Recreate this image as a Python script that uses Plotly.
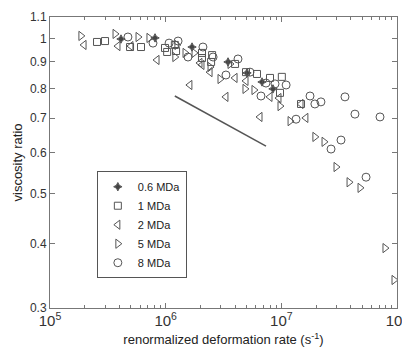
import plotly.graph_objects as go

# 0.6 MDa
x06 = [4.11e5, 8.09e5, 1.69e6, 3.46e6, 5.05e6, 6.81e6, 8.47e6]
y06 = [0.997, 1.002, 0.962, 0.900, 0.857, 0.823, 0.798]
# 1 MDa
x1 = [2.55e5, 2.99e5, 4.92e5, 6.12e5, 9.87e5, 1.03e6, 1.20e6, 1.23e6, 2.06e6, 2.06e6,
      2.52e6, 2.47e6, 3.98e6, 4.95e6, 6.16e6, 7.98e6, 1.01e7, 9.74e6, 1.48e7]
y1 = [0.984, 0.988, 0.962, 0.962, 0.958, 0.941, 0.971, 0.945, 0.937, 0.916,
      0.928, 0.900, 0.892, 0.860, 0.853, 0.838, 0.842, 0.784, 0.746]
# 2 MDa
x2 = [1.97e5, 3.87e5, 5.01e5, 8.42e5, 1.62e6, 1.98e6, 2.06e6, 2.42e6, 3.32e6, 3.98e6,
      4.95e6, 6.54e6, 7.98e6, 9.54e6, 1.48e7, 1.63e7]
y2 = [0.971, 0.966, 0.966, 0.908, 0.812, 0.896, 0.888, 0.860, 0.770, 0.838,
      0.827, 0.704, 0.770, 0.766, 0.746, 0.701]
# 5 MDa
x5 = [1.85e5, 3.65e5, 5.77e5, 7.17e5, 1.25e6, 1.20e6, 1.47e6, 1.76e6, 2.42e6, 2.95e6,
      3.60e6, 4.85e6, 5.80e6, 9.74e6, 1.19e7, 1.95e7, 2.34e7, 2.97e7, 3.85e7, 4.79e7,
      7.87e7, 9.42e7]
y5 = [1.011, 1.020, 1.006, 1.002, 0.971, 0.920, 0.937, 0.937, 0.880, 0.834,
      0.892, 0.798, 0.794, 0.739, 0.691, 0.644, 0.630, 0.563, 0.526, 0.513,
      0.392, 0.340]
# 8 MDa
x8 = [4.72e5, 7.77e5, 1.07e6, 1.28e6, 1.56e6, 2.10e6, 2.57e6, 3.32e6, 4.22e6, 5.36e6,
      6.67e6, 7.37e6, 8.82e6, 1.10e7, 1.34e7, 1.77e7, 1.95e7, 2.20e7, 2.69e7, 3.28e7,
      3.55e7, 4.33e7, 5.40e7, 7.13e7]
y8 = [1.006, 0.979, 0.979, 0.988, 0.920, 0.962, 0.920, 0.849, 0.912, 0.860,
      0.773, 0.819, 0.816, 0.812, 0.697, 0.773, 0.746, 0.753, 0.610, 0.635,
      0.770, 0.713, 0.538, 0.704]
# guide line
xl = [1.20e6, 7.37e6]
yl = [0.773, 0.618]

ytick_vals = [0.3, 0.4, 0.5, 0.6, 0.7, 0.8, 0.9, 1.0, 1.1]
ytick_text = ["0.3", "0.4", "0.5", "0.6", "0.7", "0.8", "0.9", "1", "1.1"]

mc = "#555555"
fig = go.Figure()
series = [
    ("0.6 MDa", x06, y06, "star-diamond", 6),
    ("1 MDa", x1, y1, "square-open", 7),
    ("2 MDa", x2, y2, "triangle-left-open", 8),
    ("5 MDa", x5, y5, "triangle-right-open", 8),
    ("8 MDa", x8, y8, "circle-open", 8),
]
for name, xs, ys, sym, sz in series:
    fig.add_trace(go.Scatter(x=xs, y=ys, mode="markers", name=name, cliponaxis=False,
                             marker=dict(symbol=sym, size=sz, color="#444444" if "star" in sym else mc,
                                         line=dict(width=1, color=mc))))
fig.add_trace(go.Scatter(x=xl, y=yl, mode="lines", showlegend=False,
                         line=dict(color="#555555", width=1.5)))

axis_common = dict(showline=True, linecolor="#777777", linewidth=1, mirror="allticks",
                   ticks="inside", tickcolor="#777777", showgrid=False, zeroline=False,
                   ticklabeloverflow="allow", automargin=False,
                   tickfont=dict(family="Liberation Sans, Arial", size=12, color="#333333"))
fig.update_xaxes(type="log", range=[5, 8], dtick=1, exponentformat="power", ticklen=5,
                 minor=dict(ticks="inside", ticklen=3, dtick="D1", tickcolor="#777777", showgrid=False),
                 title=dict(text="renormalized deformation rate (s<sup>-1</sup>)", standoff=6,
                            font=dict(family="Liberation Sans, Arial", size=13, color="#222222")),
                 **axis_common)
fig.update_yaxes(type="log", range=[-0.52288, 0.04139], ticklen=5,
                 tickvals=ytick_vals, ticktext=ytick_text,
                 title=dict(text="viscosity ratio", standoff=4,
                            font=dict(family="Liberation Sans, Arial", size=13, color="#222222")),
                 **axis_common)
fig.update_layout(
    width=402, height=352,
    margin=dict(l=50, r=5, t=17, b=44),
    paper_bgcolor="white", plot_bgcolor="white",
    legend=dict(x=0.135, y=0.47, xanchor="left", yanchor="top",
                bordercolor="#555555", borderwidth=1, bgcolor="white",
                itemwidth=30, tracegroupgap=0,
                font=dict(family="Liberation Sans, Arial", size=11, color="#222222")),
)
fig.write_html("out.html", config={"displayModeBar": False},
               post_script="document.body.style.margin='0';")
